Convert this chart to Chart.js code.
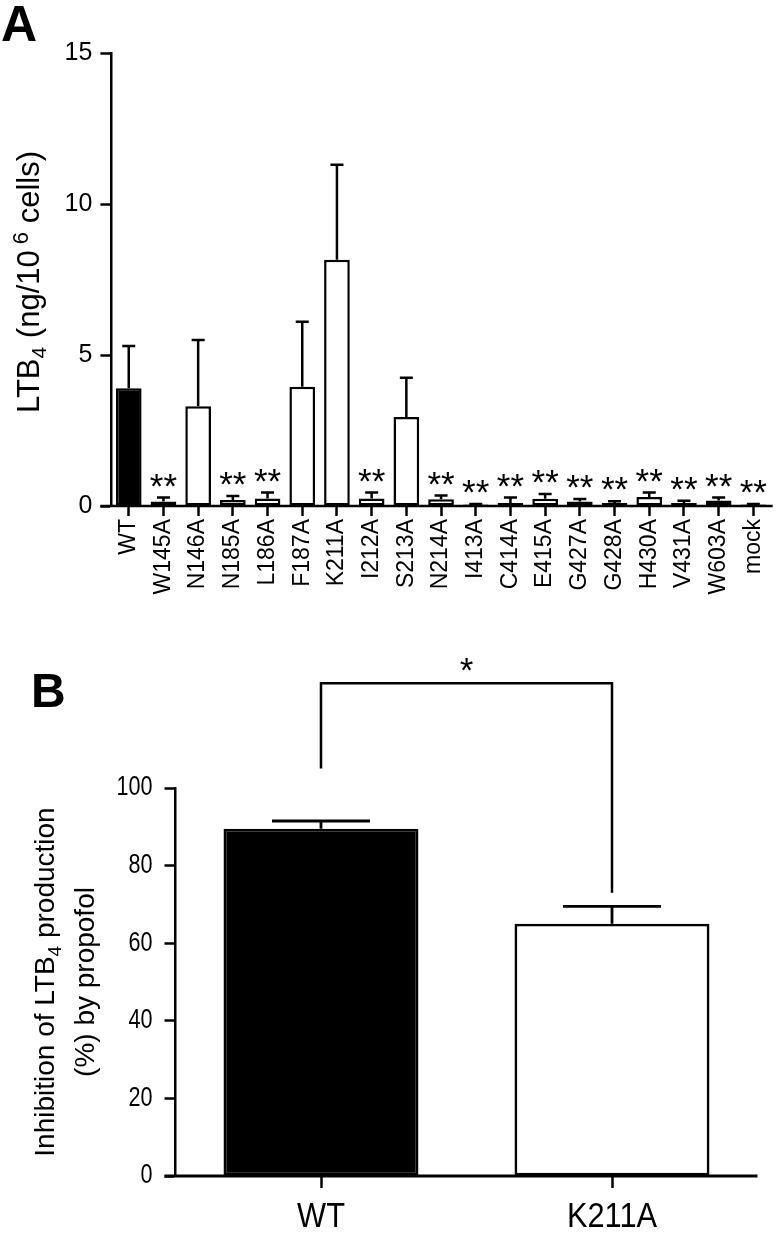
<!DOCTYPE html>
<html><head><meta charset="utf-8">
<script src="https://cdn.jsdelivr.net/npm/chart.js@4.4.0/dist/chart.umd.min.js"></script>
<style>
html,body{margin:0;padding:0;background:#fff;width:784px;height:1240px;overflow:hidden}
canvas{position:absolute;left:0}
#ca{top:0}
#cb{top:610px}
</style></head><body>
<canvas id="ca" width="784" height="610"></canvas>
<canvas id="cb" width="784" height="630"></canvas>
<script>
// ---------- Panel A data ----------
const mutants = ['WT','W145A','N146A','N185A','L186A','F187A','K211A','I212A','S213A','N214A','I413A','C414A','E415A','G427A','G428A','H430A','V431A','W603A','mock'];
const ltb4Mean = [3.9, 0.15, 3.3, 0.2, 0.25, 3.95, 8.15, 0.25, 2.95, 0.22, 0.05, 0.1, 0.24, 0.15, 0.1, 0.3, 0.1, 0.18, 0.05];
const ltb4Err  = [1.4, 0.13, 2.2, 0.13, 0.2, 2.15, 3.15, 0.2, 1.3, 0.13, 0.02, 0.18, 0.16, 0.08, 0.06, 0.15, 0.07, 0.1, 0.02];
const ltb4Sig  = ['', '**', '', '**', '**', '', '', '**', '', '**', '**', '**', '**', '**', '**', '**', '**', '**', '**'];
const ltb4Ticks = [0, 5, 10, 15];

// ---------- Panel B data ----------
const groupsB = ['WT', 'K211A'];
const inhibMean = [89.5, 65];
const inhibErr = [2, 4.5];
const inhibTicks = [0, 20, 40, 60, 80, 100];
const bracketLevel = 127;
const bracketEnds = [105, 73];
const bracketLabel = '*';

const FONT = "'Liberation Sans', Arial, sans-serif";
Chart.defaults.font.family = FONT;
Chart.defaults.color = '#000';

function drawRich(ctx, parts, cx, cy, rot, main) {
  ctx.save();
  ctx.translate(cx, cy); ctx.rotate(rot);
  let total = 0;
  parts.forEach(p => { ctx.font = p.size + 'px ' + FONT; p.w = ctx.measureText(p.t).width; total += p.w; });
  let x = -total / 2;
  ctx.textBaseline = 'alphabetic'; ctx.textAlign = 'left'; ctx.fillStyle = '#000';
  const base = main * 0.36;
  parts.forEach(p => { ctx.font = p.size + 'px ' + FONT; ctx.fillText(p.t, x, base + (p.dy || 0)); x += p.w; });
  ctx.restore();
}

function narrowText(ctx, txt, x, y, size, sx, align, baseline) {
  ctx.save();
  ctx.translate(x, y); ctx.scale(sx, 1);
  ctx.font = size + 'px ' + FONT; ctx.textAlign = align; ctx.textBaseline = baseline; ctx.fillStyle = '#000';
  ctx.fillText(txt, 0, 0);
  ctx.restore();
}

const panelA = {
  id: 'panelA',
  afterDatasetsDraw(chart) {
    const ctx = chart.ctx, meta = chart.getDatasetMeta(0), y = chart.scales.y;
    const ca = chart.chartArea;
    ctx.save();
    ctx.strokeStyle = '#000'; ctx.fillStyle = '#000'; ctx.lineWidth = 2.5;
    meta.data.forEach((bar, i) => {
      const top = y.getPixelForValue(ltb4Mean[i] + ltb4Err[i]);
      const base = y.getPixelForValue(ltb4Mean[i]);
      ctx.beginPath();
      ctx.moveTo(bar.x, base); ctx.lineTo(bar.x, top);
      ctx.moveTo(bar.x - 6.5, top); ctx.lineTo(bar.x + 6.5, top);
      ctx.stroke();
      if (ltb4Sig[i]) {
        ctx.font = '35px ' + FONT; ctx.textAlign = 'center'; ctx.textBaseline = 'alphabetic';
        ctx.fillText(ltb4Sig[i], bar.x, top - 20 + 0.58 * 35);
      }
    });
    const y0 = y.getPixelForValue(0);
    ctx.beginPath(); ctx.moveTo(ca.left - 11, y0); ctx.lineTo(ca.right + 2, y0); ctx.stroke();
    ctx.font = 'bold 50px ' + FONT; ctx.textAlign = 'left'; ctx.textBaseline = 'alphabetic';
    ctx.fillText('A', 1, 41);
    drawRich(ctx, [
      {t: 'LTB', size: 31}, {t: '4', size: 21, dy: 7}, {t: ' (ng/10', size: 31},
      {t: ' 6', size: 22, dy: -11}, {t: ' cells)', size: 31}
    ], 28, 282, -Math.PI / 2, 31);
    ctx.restore();
  }
};

const panelB = {
  id: 'panelB',
  afterDatasetsDraw(chart) {
    const ctx = chart.ctx, meta = chart.getDatasetMeta(0), y = chart.scales.y, x = chart.scales.x;
    const ca = chart.chartArea;
    ctx.save();
    ctx.strokeStyle = '#000'; ctx.fillStyle = '#000'; ctx.lineWidth = 2.8;
    meta.data.forEach((bar, i) => {
      const top = y.getPixelForValue(inhibMean[i] + inhibErr[i]);
      const base = y.getPixelForValue(inhibMean[i]);
      ctx.beginPath();
      ctx.moveTo(bar.x, base); ctx.lineTo(bar.x, top);
      ctx.moveTo(bar.x - 49, top); ctx.lineTo(bar.x + 49, top);
      ctx.stroke();
    });
    const y0 = y.getPixelForValue(0);
    ctx.beginPath(); ctx.moveTo(ca.left - 11, y0); ctx.lineTo(ca.right, y0); ctx.stroke();
    // tick labels (condensed look), positioned by the chart's own scales
    y.ticks.forEach(t => narrowText(ctx, String(t.value), ca.left - 23, y.getPixelForValue(t.value), 27, 0.8, 'right', 'middle'));
    groupsB.forEach((g, i) => narrowText(ctx, g, x.getPixelForValue(i), y0 + 51, 35, 0.88, 'center', 'alphabetic'));
    // significance bracket
    const xl = meta.data[0].x, xr = meta.data[1].x, yb = y.getPixelForValue(bracketLevel);
    ctx.lineWidth = 2.5;
    ctx.beginPath();
    ctx.moveTo(xl, y.getPixelForValue(bracketEnds[0])); ctx.lineTo(xl, yb);
    ctx.lineTo(xr, yb); ctx.lineTo(xr, y.getPixelForValue(bracketEnds[1]));
    ctx.stroke();
    ctx.font = '35px ' + FONT; ctx.textAlign = 'center'; ctx.textBaseline = 'alphabetic';
    ctx.fillText(bracketLabel, (xl + xr) / 2, yb - 22 + 0.58 * 35);
    ctx.font = 'bold 48px ' + FONT; ctx.textAlign = 'left';
    ctx.fillText('B', 31, 97);
    drawRich(ctx, [
      {t: 'Inhibition of LTB', size: 28}, {t: '4', size: 19, dy: 7}, {t: ' production', size: 28}
    ], 44, 372, -Math.PI / 2, 28);
    drawRich(ctx, [{t: '(%) by propofol', size: 28}], 84, 372, -Math.PI / 2, 28);
    ctx.restore();
  }
};

new Chart(document.getElementById('ca'), {
  type: 'bar',
  data: {
    labels: mutants,
    datasets: [{
      data: ltb4Mean,
      backgroundColor: mutants.map((m, i) => i === 0 ? '#000' : '#fff'),
      borderColor: '#000', borderWidth: 2.5, borderSkipped: false,
      barPercentage: 0.74, categoryPercentage: 1
    }]
  },
  options: {
    responsive: false, animation: false, devicePixelRatio: 1,
    layout: {padding: {top: 53, right: 2.4, left: 0, bottom: 0}},
    plugins: {legend: {display: false}, tooltip: {enabled: false}},
    scales: {
      x: {
        offset: true,
        grid: {display: true, drawOnChartArea: false, offset: false, tickLength: 10, tickWidth: 2.5, tickColor: '#000'},
        border: {display: false},
        ticks: {minRotation: 90, maxRotation: 90, autoSkip: false, padding: 3, font: {size: 23}, color: '#000'},
        afterFit: s => { s.height = 104; }
      },
      y: {
        min: 0, max: 15,
        afterBuildTicks: s => { s.ticks = ltb4Ticks.map(v => ({value: v})); },
        grid: {display: true, drawOnChartArea: false, tickLength: 11, tickWidth: 2.5, tickColor: '#000'},
        border: {display: true, color: '#000', width: 2.5},
        ticks: {padding: 8, font: {size: 25}, color: '#000'},
        afterFit: s => { s.width = 111.4; }
      }
    }
  },
  plugins: [panelA]
});

new Chart(document.getElementById('cb'), {
  type: 'bar',
  data: {
    labels: groupsB,
    datasets: [{
      data: inhibMean,
      backgroundColor: ['#000', '#fff'],
      borderColor: '#000', borderWidth: 2.8, borderSkipped: false,
      barPercentage: 0.67, categoryPercentage: 1
    }]
  },
  options: {
    responsive: false, animation: false, devicePixelRatio: 1,
    layout: {padding: {top: 178, right: 26.5, left: 0, bottom: 0}},
    plugins: {legend: {display: false}, tooltip: {enabled: false}},
    scales: {
      x: {
        offset: true,
        grid: {display: true, drawOnChartArea: false, offset: false, tickLength: 12, tickWidth: 2.5, tickColor: '#000'},
        border: {display: false},
        ticks: {display: false},
        afterFit: s => { s.height = 64; }
      },
      y: {
        min: 0, max: 100,
        afterBuildTicks: s => { s.ticks = inhibTicks.map(v => ({value: v})); },
        grid: {display: true, drawOnChartArea: false, tickLength: 11, tickWidth: 2.5, tickColor: '#000'},
        border: {display: true, color: '#000', width: 2.5},
        ticks: {display: false},
        afterFit: s => { s.width = 175.5; }
      }
    }
  },
  plugins: [panelB]
});
</script>
</body></html>
